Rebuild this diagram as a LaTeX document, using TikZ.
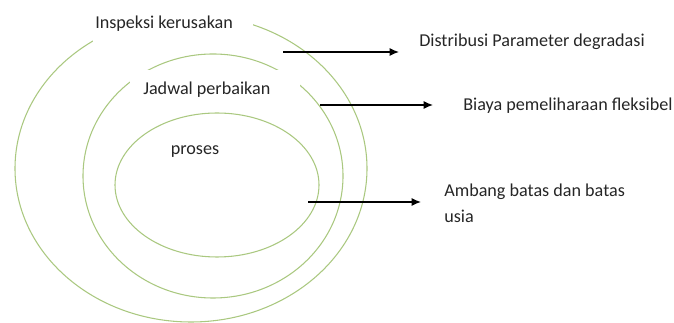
\documentclass[tikz,border=0pt]{standalone}
\usepackage{fontspec}
\setmainfont{Carlito}
\usetikzlibrary{arrows.meta}

\definecolor{ringgreen}{RGB}{170,200,128}

\tikzset{
	ring/.style={draw=ringgreen, line width=0.8pt},
	lbl/.style={inner sep=0.75pt, font=\fontsize{13.6}{19.5}\selectfont, text=black!85},
	gaplbl/.style={lbl, fill=white, anchor=west, align=flush left},
	pointer/.style={draw=black, line width=0.9pt, -{Latex[length=7pt,width=6pt]}}
}

\begin{document}
\begin{tikzpicture}[x=0.75pt,y=0.75pt,yscale=-1,xscale=1]
	\useasboundingbox (0,0) rectangle (674,323);
	
	%Shape: Ellipse [outer]
	\draw [ring] (191,168.5) ellipse [x radius=176, y radius=153.5];
	%Shape: Ellipse [middle]
	\draw [ring] (213,176) ellipse [x radius=130, y radius=122];
	%Shape: Ellipse [inner]
	\draw [ring] (217,185) ellipse [x radius=102, y radius=72];
	
	% Text Node
	\node [gaplbl, inner xsep=1.5pt, text width=117pt, minimum height=27pt] (inspeksi) at (93,24) {Inspeksi kerusakan};
	% Text Node
	\node [gaplbl, inner xsep=9.75pt, text width=108pt, minimum height=30pt] (jadwal) at (130,90) {Jadwal perbaikan};
	% Text Node
	\node [lbl] (proses) at (195,152) {proses};
	
	% Text Node
	\node [lbl, anchor=west] (distribusi) at (418,42) {Distribusi Parameter degradasi};
	% Text Node
	\node [lbl, anchor=west] (biaya) at (462,106) {Biaya pemeliharaan fleksibel};
	% Text Node
	\node [lbl, anchor=west, align=flush left] (ambang) at (443,203) {Ambang batas dan batas\\usia};
	
	%Straight Lines
	\coordinate (a1) at (283,52);
	\coordinate (b1) at (399,52);
	\coordinate (a2) at (320,105);
	\coordinate (b2) at (433,105);
	\coordinate (a3) at (308,202);
	\coordinate (b3) at (421,202);
	\draw [pointer] (a1) -- (b1);
	\draw [pointer] (a2) -- (b2);
	\draw [pointer] (a3) -- (b3);
	
\end{tikzpicture}
\end{document}
